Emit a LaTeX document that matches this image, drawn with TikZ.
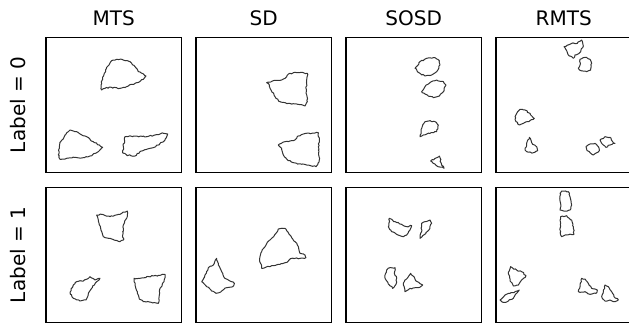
\documentclass[tikz,border=0pt]{standalone}
\usepackage{fontspec}
\setmainfont{DejaVu Sans}
\usetikzlibrary{decorations.pathmorphing}
\begin{document}
\begin{tikzpicture}[x=1pt,y=-1pt,
  panel/.style={draw=black,line width=1.6pt},
  blob/.style={draw=black!80,line width=1pt,line join=round,
    decorate,decoration={random steps,segment length=1.8pt,amplitude=0.65pt}},
  ttl/.style={font=\fontsize{20}{24}\selectfont,anchor=base},
  ylab/.style={font=\fontsize{20}{24}\selectfont,rotate=90}]
\pgfmathsetseed{7}
\useasboundingbox (0,0) rectangle (629,327);
\clip (0,0) rectangle (629,327);
\fill[white] (0,0) rectangle (629,327);
% titles
\node[ttl] (t1) at (113.75,25) {MTS};
\node[ttl] (t2) at (263.75,25) {SD};
\node[ttl] (t3) at (413.75,25) {SOSD};
\node[ttl] (t4) at (563.75,25) {RMTS};
\node[ylab] (l0) at (18,105) {Label = 0};
\node[ylab] (l1) at (18,255) {Label = 1};
% panels
\foreach \px in {46,196,346,496}{
  \foreach \py in {37.5,187.5}{
    \draw[panel] (\px,\py) rectangle ++(135.5,135);
  }
}
% ---- row 0 ----
\begin{scope}[shift={(40,30)},scale=1/3]
\draw[blob] (215,92)--(230,88)--(250,90)--(270,95)--(285,110)--(295,125)--(318,138)--(310,148)--(290,158)--(265,168)--(240,175)--(215,172)--(195,175)--(185,180)--(183,165)--(188,148)--(193,130)--(200,112)--cycle;
\draw[blob] (90,300)--(110,305)--(135,318)--(160,335)--(178,345)--(188,352)--(175,365)--(150,378)--(130,383)--(105,382)--(80,385)--(60,388)--(55,375)--(58,355)--(62,335)--(72,322)--(85,305)--cycle;
\draw[blob] (255,320)--(290,318)--(320,320)--(345,315)--(370,310)--(383,312)--(375,330)--(355,345)--(330,355)--(300,365)--(285,378)--(260,375)--(248,368)--(250,350)--(253,330)--cycle;
\end{scope}
\begin{scope}[shift={(190,30)},scale=1/3]
\draw[blob] (230,158)--(250,152)--(275,150)--(290,140)--(300,130)--(320,128)--(340,128)--(352,130)--(350,160)--(348,190)--(352,215)--(345,228)--(320,222)--(295,220)--(270,215)--(255,200)--(243,180)--(238,165)--cycle;
\draw[blob] (265,345)--(285,335)--(310,332)--(325,318)--(340,312)--(365,310)--(385,308)--(388,330)--(385,360)--(388,395)--(378,410)--(350,405)--(320,400)--(295,392)--(280,375)--(275,355)--cycle;
\end{scope}
\begin{scope}[shift={(340,30)},scale=1/3]
\draw[blob] (225,115)--(240,95)--(260,85)--(285,83)--(298,92)--(300,105)--(290,125)--(275,135)--(255,138)--(240,130)--cycle;
\draw[blob] (245,185)--(255,170)--(270,158)--(290,150)--(310,155)--(318,165)--(310,185)--(298,198)--(280,203)--(262,195)--cycle;
\draw[blob] (240,320)--(245,295)--(255,275)--(270,272)--(285,275)--(295,285)--(290,305)--(270,310)--(250,315)--cycle;
\draw[blob] (272,393)--(298,378)--(304,400)--(312,415)--(294,410)--(286,403)--cycle;
\end{scope}
\begin{scope}[shift={(490,30)},scale=1/3]
\draw[blob] (222,50)--(245,40)--(262,40)--(275,30)--(280,48)--(272,65)--(255,75)--(250,85)--(238,78)--(230,62)--cycle;
\draw[blob] (270,88)--(285,82)--(300,88)--(305,100)--(302,120)--(290,125)--(272,122)--(265,115)--(270,105)--cycle;
\draw[blob] (80,250)--(90,238)--(105,240)--(120,250)--(133,265)--(120,272)--(100,280)--(88,285)--(78,275)--(75,260)--cycle;
\draw[blob] (105,360)--(110,340)--(118,322)--(125,338)--(140,350)--(143,362)--(130,368)--(110,365)--cycle;
\draw[blob] (288,350)--(300,342)--(315,340)--(325,350)--(328,362)--(310,375)--(300,368)--(290,358)--cycle;
\draw[blob] (330,330)--(345,320)--(360,322)--(368,335)--(375,340)--(360,345)--(348,352)--(340,345)--cycle;
\end{scope}
% ---- row 1 ----
\begin{scope}[shift={(40,175)},scale=1/3]
\draw[blob] (170,120)--(185,118)--(210,125)--(235,118)--(262,108)--(260,130)--(250,150)--(248,170)--(250,195)--(240,200)--(215,192)--(190,185)--(182,160)--(175,138)--cycle;
\draw[blob] (90,352)--(100,330)--(110,320)--(130,318)--(150,305)--(165,315)--(180,310)--(170,320)--(155,340)--(145,355)--(138,375)--(120,378)--(100,370)--cycle;
\draw[blob] (282,310)--(300,310)--(320,305)--(340,303)--(375,298)--(372,320)--(360,340)--(358,360)--(355,385)--(335,382)--(310,380)--(298,372)--(292,350)--(285,330)--cycle;
\end{scope}
\begin{scope}[shift={(190,175)},scale=1/3]
\draw[blob] (210,245)--(215,230)--(228,210)--(240,195)--(255,178)--(265,162)--(285,160)--(300,180)--(315,200)--(325,215)--(330,235)--(345,240)--(348,248)--(330,250)--(305,250)--(290,262)--(270,268)--(245,272)--(215,280)--(210,262)--cycle;
\draw[blob] (35,320)--(45,300)--(55,278)--(70,270)--(80,250)--(85,270)--(95,290)--(105,310)--(120,318)--(133,325)--(128,335)--(110,338)--(95,348)--(78,355)--(65,348)--(50,335)--cycle;
\end{scope}
\begin{scope}[shift={(340,175)},scale=1/3]
\draw[blob] (148,130)--(165,140)--(185,148)--(200,155)--(215,152)--(210,165)--(200,180)--(190,185)--(170,178)--(155,170)--(145,155)--cycle;
\draw[blob] (245,145)--(255,140)--(270,135)--(275,145)--(270,160)--(258,175)--(240,190)--(245,170)--(245,155)--cycle;
\draw[blob] (135,300)--(140,285)--(150,278)--(165,278)--(163,295)--(170,310)--(168,328)--(158,340)--(148,330)--(138,315)--cycle;
\draw[blob] (190,330)--(195,315)--(205,305)--(212,295)--(222,305)--(228,318)--(248,330)--(235,338)--(210,340)--(195,350)--cycle;
\end{scope}
\begin{scope}[shift={(490,175)},scale=1/3]
\draw[blob] (210,55)--(215,48)--(235,50)--(240,65)--(245,90)--(240,105)--(225,108)--(210,105)--(212,85)--cycle;
\draw[blob] (212,125)--(230,122)--(245,135)--(250,160)--(252,178)--(230,180)--(215,185)--(210,165)--(212,145)--cycle;
\draw[blob] (55,292)--(62,275)--(80,285)--(95,290)--(108,302)--(95,315)--(85,330)--(70,333)--(60,318)--cycle;
\draw[blob] (30,375)--(45,360)--(60,355)--(75,350)--(88,345)--(80,355)--(70,370)--(55,378)--(40,382)--cycle;
\draw[blob] (265,350)--(270,330)--(275,310)--(285,312)--(295,325)--(305,340)--(322,345)--(318,355)--(300,358)--(285,350)--(270,352)--cycle;
\draw[blob] (335,365)--(340,350)--(345,330)--(355,335)--(365,350)--(372,365)--(385,375)--(375,380)--(360,375)--(345,378)--cycle;
\end{scope}
\end{tikzpicture}
\end{document}
